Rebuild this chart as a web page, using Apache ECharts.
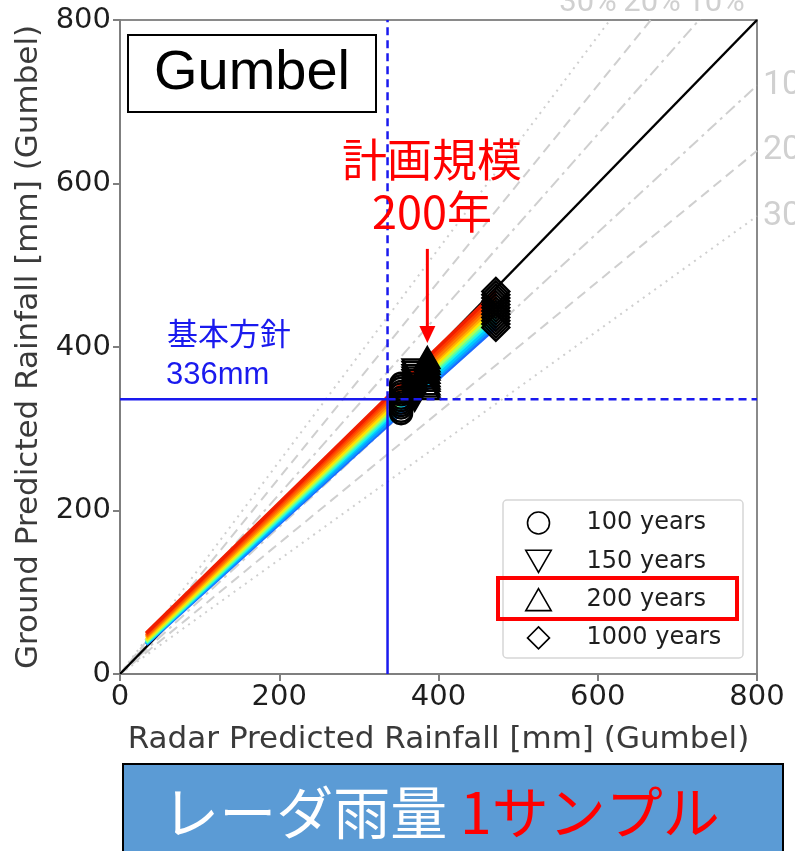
<!DOCTYPE html>
<html>
<head>
<meta charset="utf-8">
<script src="https://cdn.jsdelivr.net/npm/echarts@6/dist/echarts.min.js"></script>
<style>
  html, body { margin: 0; padding: 0; background: #ffffff; }
  #main { width: 795px; height: 851px; }
</style>
</head>
<body>
<div id="main"></div>
<script>
// Radar quantiles (x) at the low end of each curve and at the 100/150/200/1000-year return periods
const radarX = [33, 353, 370, 386, 472];
const periodNames = ['100 years', '150 years', '200 years', '1000 years'];

// Ground quantiles (y) of each sample, at the same points as radarX
const groundSamples = [
  [36, 319, 335, 349, 424],
  [37, 322, 339, 352, 428],
  [38, 326, 342, 355, 432],
  [38, 329, 345, 359, 436],
  [39, 332, 348, 362, 440],
  [40, 335, 352, 365, 444],
  [42, 338, 355, 369, 448],
  [44, 342, 359, 373, 452],
  [46, 345, 362, 376, 456],
  [47, 349, 365, 380, 460],
  [49, 352, 369, 383, 464],
  [50, 355, 372, 387, 468]
];
const sampleColors = [
  '#1a6cff', '#0aa0ff', '#00ccff', '#1cf5ea', '#5fffa0', '#b0ff50',
  '#ffe400', '#ffb000', '#ff8000', '#ff5a00', '#ff3c00', '#f01e00'
];

// Ratio guide lines (y = r * x) and their labels
const ratioLines = [0.7, 0.8, 0.9, 1.1, 1.2, 1.3];
const ratioLabels = ['30%', '20%', '10%', '10%', '20%', '30%'];

// Basic-plan rainfall
const planValue = 336;

const AXIS_FONT = "'DejaVu Sans', sans-serif";
const JP_FONT = "'Noto Sans CJK JP', sans-serif";
const NARROW_FONT = "'Liberation Sans Narrow', 'Roboto', sans-serif";

const periodSymbols = [
  'circle',
  'path://M0,0L10,0L5,8.66Z',
  'path://M5,0L10,8.66L0,8.66Z',
  'path://M5,0L10,5L5,10L0,5Z'
];
const periodSizes = [22, 24, 24, 27];

function ratioDash(r) {
  const d = Math.round(Math.abs(1 - r) * 10);
  if (d === 1) return [12, 5, 3, 5];
  if (d === 2) return [10, 6];
  return [2, 5];
}

const series = [];

// guide lines
ratioLines.forEach(function (r) {
  series.push({
    type: 'line', silent: true, symbol: 'none', z: 1, clip: true,
    data: [[0, 0], [800, 800 * r]],
    lineStyle: { color: '#cfcfcf', width: 2, type: ratioDash(r) }
  });
});

// 1:1 line
series.push({
  type: 'line', silent: true, symbol: 'none', z: 2,
  data: [[0, 0], [800, 800]],
  lineStyle: { color: '#000000', width: 2.5 }
});

// one curve per ground sample
groundSamples.forEach(function (s, i) {
  series.push({
    type: 'line', silent: true, symbol: 'none', z: 3,
    data: radarX.map(function (x, j) { return [x, s[j]]; }),
    lineStyle: { color: sampleColors[i], width: 3.5 }
  });
});

// return-period markers
periodNames.forEach(function (name, p) {
  series.push({
    name: name, type: 'scatter', silent: true, z: 5,
    symbol: periodSymbols[p], symbolSize: periodSizes[p], symbolKeepAspect: true,
    data: groundSamples.map(function (s) { return [radarX[p + 1], s[p + 1]]; }),
    itemStyle: { color: 'rgba(0,0,0,0)', borderColor: '#000000', borderWidth: 2.4, opacity: 1 }
  });
});

// plan value cross-hair
const blue = '#1a1aee';
series.push(
  { type: 'line', silent: true, symbol: 'none', z: 6, data: [[0, planValue], [planValue, planValue]],
    lineStyle: { color: blue, width: 2.5 } },
  { type: 'line', silent: true, symbol: 'none', z: 6, data: [[planValue, planValue], [800, planValue]],
    lineStyle: { color: blue, width: 2.5, type: [8, 5] } },
  { type: 'line', silent: true, symbol: 'none', z: 6, data: [[planValue, 0], [planValue, planValue]],
    lineStyle: { color: blue, width: 2.5 } },
  { type: 'line', silent: true, symbol: 'none', z: 6, data: [[planValue, planValue], [planValue, 800]],
    lineStyle: { color: blue, width: 2.5, type: [8, 5] } }
);

function axisCommon(name, gap) {
  return {
    type: 'value', min: 0, max: 800, interval: 200,
    name: name, nameLocation: 'middle', nameGap: gap,
    nameTextStyle: { fontFamily: AXIS_FONT, fontSize: 31, color: '#3a3a3a' },
    axisLine: { show: true, lineStyle: { color: '#7f7f7f', width: 2 } },
    axisTick: { show: true, inside: false, length: 7, lineStyle: { color: '#7f7f7f', width: 2 } },
    axisLabel: { fontFamily: AXIS_FONT, fontSize: 29, color: '#1e1e1e', margin: 9 },
    splitLine: { show: false }
  };
}

const chart = echarts.init(document.getElementById('main'), null, { renderer: 'canvas' });
chart.setOption({
  animation: false,
  backgroundColor: '#ffffff',
  grid: { left: 120, right: 38, top: 20, bottom: 177, show: true, borderColor: '#8a8a8a', borderWidth: 2, backgroundColor: 'transparent' },
  xAxis: axisCommon('Radar Predicted Rainfall [mm] (Gumbel)', 50),
  yAxis: axisCommon('Ground Predicted Rainfall [mm] (Gumbel)', 74),
  legend: {
    orient: 'vertical', left: 525, top: 511, padding: 0,
    itemWidth: 86, itemHeight: 22, itemGap: 14.3,
    selectedMode: false, z: 20,
    textStyle: { fontFamily: AXIS_FONT, fontSize: 24, color: '#1e1e1e', lineHeight: 22 },
    data: periodNames.map(function (n, i) {
      return { name: n, icon: periodSymbols[i],
        itemStyle: { color: 'rgba(0,0,0,0)', borderColor: '#000000', borderWidth: 1.6 } };
    })
  },
  series: series
});

// annotations placed from data coordinates where they refer to data
const arrowTop = chart.convertToPixel({ gridIndex: 0 }, [386, 520]);
const arrowTip = chart.convertToPixel({ gridIndex: 0 }, [386, 405]);
const planPx = chart.convertToPixel({ gridIndex: 0 }, [planValue, planValue]);

const graphics = [
  // method box
  { type: 'rect', z: 50, shape: { x: 128, y: 35, width: 248, height: 77 },
    style: { fill: '#ffffff', stroke: '#000000', lineWidth: 2 } },
  { type: 'text', z: 51, x: 252, y: 74,
    style: { text: 'Gumbel', font: "56px 'Liberation Sans', Arial, sans-serif", fill: '#000000', align: 'center', verticalAlign: 'middle' } },

  // plan value annotation
  { type: 'text', z: 51, x: 167, y: planPx[1] - 66,
    style: { text: '基本方針', font: '31px ' + JP_FONT, fill: blue, align: 'left', verticalAlign: 'middle' } },
  { type: 'text', z: 51, x: 166, y: planPx[1] - 24,
    style: { text: '336mm', font: "31px 'Liberation Sans', Arial, sans-serif", fill: blue, align: 'left', verticalAlign: 'middle' } },

  // design scale annotation
  { type: 'text', z: 51, x: 432, y: 160,
    style: { text: '計画規模', font: '45px ' + JP_FONT, fill: '#ff0000', align: 'center', verticalAlign: 'middle' } },
  { type: 'text', z: 51, x: 432, y: 212,
    style: { text: '200年', font: '45px ' + JP_FONT, fill: '#ff0000', align: 'center', verticalAlign: 'middle' } },
  { type: 'line', z: 51, shape: { x1: arrowTop[0], y1: arrowTop[1], x2: arrowTip[0], y2: arrowTip[1] - 14 },
    style: { stroke: '#ff0000', lineWidth: 3 } },
  { type: 'polygon', z: 51,
    shape: { points: [[arrowTip[0] - 8, arrowTip[1] - 17], [arrowTip[0] + 8, arrowTip[1] - 17], [arrowTip[0], arrowTip[1]]] },
    style: { fill: '#ff0000' } },

  // legend frame and highlight
  { type: 'rect', z: 10, shape: { x: 503, y: 500, width: 240, height: 158, r: 4 },
    style: { fill: 'rgba(255,255,255,0.9)', stroke: '#d6d6d6', lineWidth: 1.5 } },
  { type: 'rect', z: 60, shape: { x: 498, y: 578, width: 239, height: 41 },
    style: { fill: 'none', stroke: '#ff0000', lineWidth: 4 } },

  // bottom caption
  { type: 'rect', z: 50, shape: { x: 123, y: 764, width: 660, height: 100 },
    style: { fill: '#5b9bd5', stroke: '#000000', lineWidth: 2 } },
  { type: 'text', z: 51, x: 441, y: 812,
    style: {
      text: '{w|レーダ雨量 }{r|1サンプル}', align: 'center', verticalAlign: 'middle',
      rich: {
        w: { font: '57px ' + JP_FONT, fill: '#ffffff' },
        r: { font: '57px ' + JP_FONT, fill: '#ff0000' }
      }
    } }
];

// ratio labels: lower lines at the right edge, upper lines above the frame
const topLabelX = { '1.3': 588, '1.2': 652, '1.1': 716 };
ratioLines.forEach(function (r, i) {
  if (r < 1) {
    const p = chart.convertToPixel({ gridIndex: 0 }, [800, 800 * r]);
    graphics.push({ type: 'text', z: 40, x: p[0] + 6, y: p[1],
      style: { text: ratioLabels[i], font: '34px ' + NARROW_FONT, fill: '#d0d0d0', align: 'left', verticalAlign: 'middle' } });
  } else {
    graphics.push({ type: 'text', z: 40, x: topLabelX[String(r)], y: 19,
      style: { text: ratioLabels[i], font: '31px ' + NARROW_FONT, fill: '#d0d0d0', align: 'center', verticalAlign: 'bottom' } });
  }
});

chart.setOption({ graphic: graphics });
</script>
</body>
</html>
